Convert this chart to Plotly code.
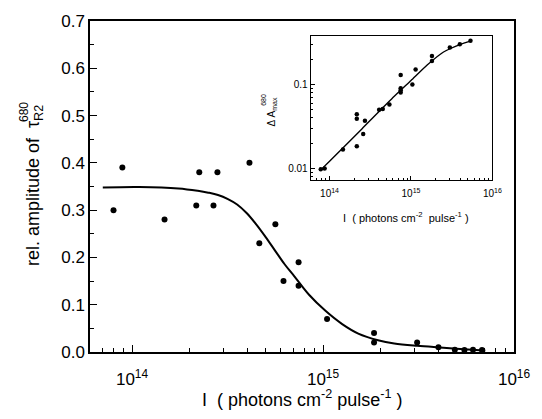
import plotly.graph_objects as go

# Main panel: relative amplitude of tau_R2 (680 nm) versus excitation intensity
main_intensity = [8.0e13, 8.9e13, 1.48e14, 2.17e14, 2.25e14, 2.67e14, 2.80e14,
                  4.12e14, 4.64e14, 5.63e14, 6.21e14, 7.45e14, 7.45e14, 1.05e15,
                  1.85e15, 1.85e15, 3.11e15, 4.02e15, 4.9e15, 5.5e15, 6.1e15, 6.8e15]
main_amplitude = [0.30, 0.39, 0.28, 0.31, 0.38, 0.31, 0.38,
                  0.40, 0.23, 0.27, 0.15, 0.19, 0.14, 0.07,
                  0.04, 0.02, 0.02, 0.01, 0.005, 0.004, 0.005, 0.004]

# Fitted curve for the main panel
fit_intensity = [7.03e13, 1.09e14, 1.75e14, 2.21e14, 2.51e14, 2.82e14, 3.16e14,
                 3.55e14, 3.98e14, 4.47e14, 5.01e14, 5.62e14, 6.31e14, 7.08e14,
                 8.45e14, 1.03e15, 1.26e15, 1.53e15, 1.94e15, 2.36e15, 3.11e15,
                 4.27e15, 6.31e15, 7.08e15]
fit_amplitude = [0.348, 0.349, 0.346, 0.341, 0.337, 0.332, 0.324,
                 0.312, 0.294, 0.270, 0.243, 0.214, 0.185, 0.160,
                 0.121, 0.087, 0.059, 0.039, 0.025, 0.018, 0.013,
                 0.009, 0.004, 0.003]

# Inset: Delta A_max (680 nm) versus intensity, log-log
inset_intensity = [7.8e13, 8.7e13, 1.46e14, 2.16e14, 2.16e14, 2.16e14, 2.59e14,
                   2.72e14, 4.06e14, 4.5e14, 5.43e14, 7.47e14, 7.47e14, 7.47e14,
                   7.47e14, 1.04e15, 1.14e15, 1.81e15, 1.81e15, 3.0e15, 3.98e15,
                   5.38e15]
inset_dA = [0.0098, 0.010, 0.0168, 0.0184, 0.039, 0.044, 0.0256,
            0.037, 0.050, 0.051, 0.0575, 0.129, 0.090, 0.085,
            0.080, 0.100, 0.150, 0.217, 0.190, 0.275, 0.300,
            0.330]

inset_fit_intensity = [7.8e13, 1.0e14, 2.51e14, 6.24e14, 1.0e15, 1.58e15,
                       2.51e15, 3.98e15, 5.48e15]
inset_fit_dA = [0.0096, 0.0122, 0.0297, 0.072, 0.111, 0.170,
                0.243, 0.298, 0.330]

decade_ticks = [1e14, 1e15, 1e16]
decade_labels = ["10<sup>14</sup>", "10<sup>15</sup>", "10<sup>16</sup>"]
minor_x = [m * 10 ** e for e in (13, 14, 15) for m in range(2, 10)]
minor_y_inset = [m * 10 ** e for e in (-3, -2, -1) for m in range(2, 10)]

FONT = "Liberation Sans, Arial, sans-serif"

fig = go.Figure()

fig.add_trace(go.Scatter(
    x=fit_intensity, y=fit_amplitude, mode="lines",
    line=dict(color="black", width=2, shape="spline", smoothing=1.0),
    hoverinfo="skip", xaxis="x", yaxis="y"))
fig.add_trace(go.Scatter(
    x=main_intensity, y=main_amplitude, mode="markers",
    marker=dict(color="black", size=6), xaxis="x", yaxis="y"))

fig.add_trace(go.Scatter(
    x=inset_fit_intensity, y=inset_fit_dA, mode="lines",
    line=dict(color="black", width=1.4, shape="spline", smoothing=0.6),
    hoverinfo="skip", xaxis="x2", yaxis="y2"))
fig.add_trace(go.Scatter(
    x=inset_intensity, y=inset_dA, mode="markers",
    marker=dict(color="black", size=4.5), xaxis="x2", yaxis="y2"))

L, R, T, B = 90, 20, 13, 67
W, H = 542, 419
pw, ph = W - L - R, H - T - B


def px(x):
    return (x - L) / pw


def py(y):
    return (H - B - y) / ph


axis_common = dict(showline=True, linecolor="black", mirror=True, showgrid=False,
                   zeroline=False, ticks="inside", tickcolor="black")

fig.update_layout(
    width=W, height=H, margin=dict(l=L, r=R, t=T, b=B),
    paper_bgcolor="white", plot_bgcolor="white", showlegend=False,
    font=dict(family=FONT, color="black"),
    xaxis=dict(type="log", range=[13.78, 16], linewidth=1.5,
               tickmode="array", tickvals=decade_ticks, ticktext=decade_labels,
               ticklen=7, tickwidth=1.2, tickfont=dict(size=17),
               ticklabelstandoff=11,
               minor=dict(tickmode="array", tickvals=minor_x, ticks="inside",
                          ticklen=4, tickcolor="black", tickwidth=1),
               **axis_common),
    yaxis=dict(range=[0, 0.7], dtick=0.1, tickformat=".1f", linewidth=1.5,
               ticklen=7, tickwidth=1.2, tickfont=dict(size=17),
               minor=dict(dtick=0.05, ticks="inside", ticklen=4,
                          tickcolor="black", tickwidth=1),
               **axis_common),
    xaxis2=dict(type="log", range=[13.77, 16], domain=[px(315), px(500)],
                anchor="y2", linewidth=1.3,
                tickmode="array", tickvals=decade_ticks, ticktext=decade_labels,
                ticklen=4, tickwidth=1, tickfont=dict(size=10),
                ticklabelstandoff=4,
                minor=dict(tickmode="array", tickvals=minor_x, ticks="inside",
                           ticklen=2.5, tickcolor="black", tickwidth=0.8),
                **axis_common),
    yaxis2=dict(type="log", range=[-2.14, -0.42], domain=[py(176), py(28)],
                anchor="x2", linewidth=1.3,
                tickmode="array", tickvals=[0.01, 0.1], ticktext=["0.01", "0.1"],
                ticklen=4, tickwidth=1, tickfont=dict(size=10),
                minor=dict(tickmode="array", tickvals=minor_y_inset, ticks="inside",
                           ticklen=2.5, tickcolor="black", tickwidth=0.8),
                **axis_common),
)

# Axis titles
fig.add_annotation(text="I  ( photons cm<sup>-2</sup> pulse<sup>-1</sup> )",
                   xref="paper", yref="paper", x=px(306), y=py(400),
                   xanchor="center", yanchor="middle", showarrow=False,
                   font=dict(size=18))
fig.add_annotation(text="rel. amplitude of  τ<sub>R2</sub>",
                   xref="paper", yref="paper", x=px(33), y=py(182),
                   xanchor="center", yanchor="middle", textangle=-90,
                   showarrow=False, font=dict(size=18))
fig.add_annotation(text="680", xref="paper", yref="paper", x=px(23), y=py(106),
                   xanchor="center", yanchor="middle", textangle=-90,
                   showarrow=False, font=dict(size=12))

fig.add_annotation(text="I  ( photons cm<sup>-2</sup>  pulse<sup>-1</sup> )",
                   xref="paper", yref="paper", x=px(412), y=py(214),
                   xanchor="center", yanchor="middle", showarrow=False,
                   font=dict(size=11))
fig.add_annotation(text="Δ A<sub>max</sub>", xref="paper", yref="paper",
                   x=px(275), y=py(106), xanchor="center", yanchor="middle",
                   textangle=-90, showarrow=False, font=dict(size=10))
fig.add_annotation(text="680", xref="paper", yref="paper", x=px(266), y=py(94),
                   xanchor="center", yanchor="middle", textangle=-90,
                   showarrow=False, font=dict(size=7))

fig.write_html("out.html")
